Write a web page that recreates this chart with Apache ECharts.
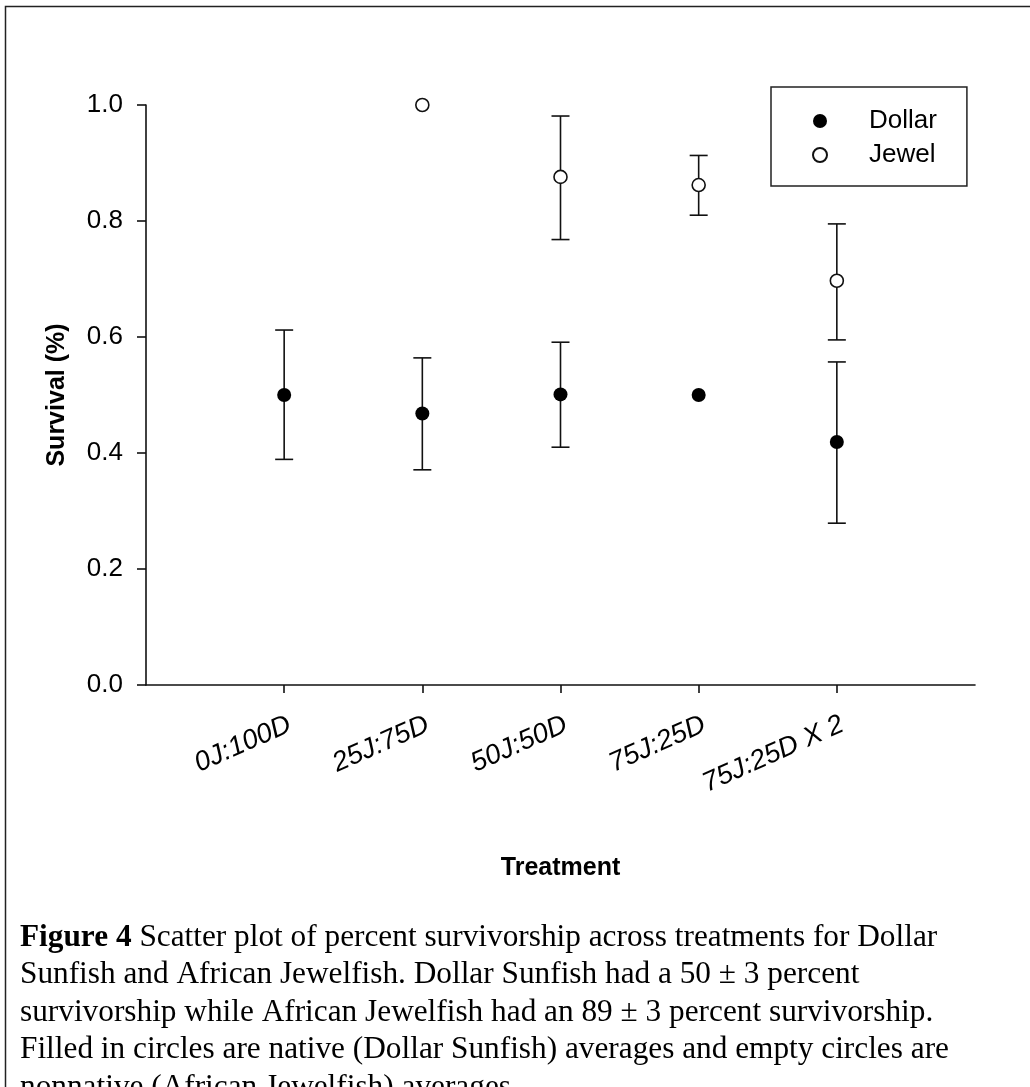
<!DOCTYPE html>
<html>
<head>
<meta charset="utf-8">
<script src="https://cdn.jsdelivr.net/npm/echarts@6/dist/echarts.min.js"></script>
<style>
html,body{margin:0;padding:0;background:#fff;}
#chart{width:1030px;height:1087px;}
</style>
</head>
<body>
<div id="chart"></div>
<script>
// ---- data ----
const categories = ['0J:100D', '25J:75D', '50J:50D', '75J:25D', '75J:25D X 2'];
const positions = [1, 2, 3, 4, 5];
const dollarMean = [0.500, 0.468, 0.501, 0.500, 0.419];
const dollarLow  = [0.389, 0.371, 0.410, null, 0.279];
const dollarHigh = [0.612, 0.564, 0.591, null, 0.557];
const jewelMean  = [null, 1.000, 0.876, 0.862, 0.697];
const jewelLow   = [null, null, 0.768, 0.810, 0.595];
const jewelHigh  = [null, null, 0.981, 0.913, 0.795];
const yTicks = [0.0, 0.2, 0.4, 0.6, 0.8, 1.0];
const legendNames = ['Dollar', 'Jewel'];
const captionBold = 'Figure 4';
const captionLines = [
  ' Scatter plot of percent survivorship across treatments for Dollar',
  'Sunfish and African Jewelfish. Dollar Sunfish had a 50 \u00b1 3 percent',
  'survivorship while African Jewelfish had an 89 \u00b1 3 percent survivorship.',
  'Filled in circles are native (Dollar Sunfish) averages and empty circles are',
  'nonnative (African Jewelfish) averages'
];

// ---- build ----
function pts(means) {
  const out = [];
  positions.forEach((p, i) => { if (means[i] != null) out.push([p, means[i]]); });
  return out;
}
function errs(lows, highs) {
  const out = [];
  positions.forEach((p, i) => { if (lows[i] != null && highs[i] != null) out.push([p, lows[i], highs[i]]); });
  return out;
}
const ink = '#111';
function renderErr(params, api) {
  const x = api.value(0);
  const lo = api.coord([x, api.value(1)]);
  const hi = api.coord([x, api.value(2)]);
  const hw = 9;
  const st = { stroke: ink, lineWidth: 1.6 };
  return {
    type: 'group',
    children: [
      { type: 'line', shape: { x1: lo[0], y1: lo[1], x2: hi[0], y2: hi[1] }, style: st },
      { type: 'line', shape: { x1: lo[0] - hw, y1: lo[1], x2: lo[0] + hw, y2: lo[1] }, style: st },
      { type: 'line', shape: { x1: hi[0] - hw, y1: hi[1], x2: hi[0] + hw, y2: hi[1] }, style: st }
    ]
  };
}

const chart = echarts.init(document.getElementById('chart'), null, { renderer: 'canvas' });
const font = '"Liberation Sans", Arial, sans-serif';
const serif = '"Liberation Serif", "Times New Roman", serif';
chart.setOption({
  animation: false,
  backgroundColor: '#fff',
  grid: { left: 146, top: 105, width: 829, height: 580, containLabel: false },
  xAxis: {
    type: 'value', min: 0, max: 6, interval: 1,
    name: 'Treatment', nameLocation: 'middle', nameGap: 171, nameMoveOverlap: false,
    nameTextStyle: { fontFamily: font, fontSize: 25, fontWeight: 'bold', color: '#000' },
    axisLine: { onZero: false, lineStyle: { color: ink, width: 1.6 } },
    axisTick: { show: true, length: 8, lineStyle: { color: ink, width: 1.6 }, customValues: positions },
    axisLabel: {
      customValues: positions,
      rotate: 24, margin: 26, verticalAlign: 'top', align: 'right',
      fontFamily: font, fontSize: 27.5, fontStyle: 'italic', color: '#000',
      formatter: v => categories[Math.round(v) - 1] || ''
    },
    splitLine: { show: false }
  },
  yAxis: {
    type: 'value', min: 0, max: 1, interval: 0.2,
    name: 'Survival (%)', nameLocation: 'middle', nameGap: 76, nameRotate: 90, nameMoveOverlap: false,
    nameTextStyle: { fontFamily: font, fontSize: 25, fontWeight: 'bold', color: '#000' },
    axisLine: { show: true, lineStyle: { color: ink, width: 1.6 } },
    axisTick: { show: true, length: 9, lineStyle: { color: ink, width: 1.6 } },
    axisLabel: {
      customValues: yTicks, margin: 23,
      fontFamily: font, fontSize: 26, color: '#000',
      formatter: v => v.toFixed(1)
    },
    splitLine: { show: false }
  },
  legend: {
    data: legendNames,
    orient: 'vertical',
    left: 771, top: 87,
    itemWidth: 14, itemHeight: 14, itemGap: 8,
    padding: [21, 30, 18, 41],
    borderColor: '#222', borderWidth: 1.5,
    formatter: name => '{s| }' + name,
    textStyle: { fontFamily: font, fontSize: 26, color: '#000', rich: { s: { width: 37 } } }
  },
  series: [
    {
      name: 'DollarErr', type: 'custom', renderItem: renderErr,
      data: errs(dollarLow, dollarHigh), z: 2, silent: true
    },
    {
      name: 'JewelErr', type: 'custom', renderItem: renderErr,
      data: errs(jewelLow, jewelHigh), z: 2, silent: true
    },
    {
      name: 'Dollar', type: 'scatter', symbol: 'circle', symbolSize: 14,
      itemStyle: { color: '#000', opacity: 1 },
      data: pts(dollarMean), z: 5
    },
    {
      name: 'Jewel', type: 'scatter', symbol: 'circle', symbolSize: 13,
      itemStyle: { color: '#fff', borderColor: ink, borderWidth: 1.6, opacity: 1 },
      data: pts(jewelMean), z: 5
    }
  ],
  graphic: [
    {
      type: 'rect', left: 3, top: 4, silent: true,
      shape: { x: 0, y: 0, width: 1100, height: 1100 },
      style: { fill: 'none', stroke: '#222', lineWidth: 1.5 }
    },
    {
      type: 'text', left: 20, top: 919, silent: true,
      style: {
        text: '{b|' + captionBold + '}' + captionLines.join('\n'),
        fontFamily: serif,
        fontSize: 31.3, lineHeight: 37.5, fill: '#000',
        rich: { b: { fontWeight: 'bold', fontFamily: serif, fontSize: 31.3, lineHeight: 37.5 } }
      }
    }
  ]
});
</script>
</body>
</html>
